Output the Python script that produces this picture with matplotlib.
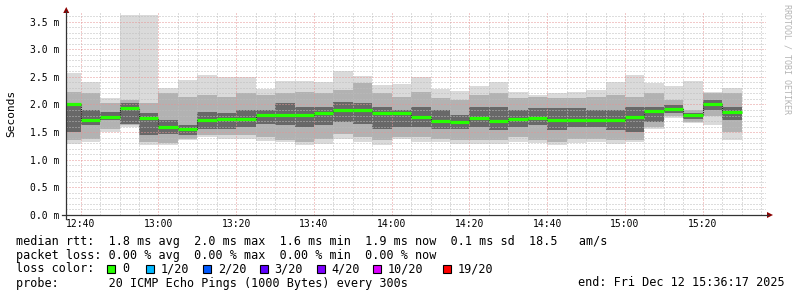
import matplotlib
matplotlib.use("Agg")
import matplotlib.pyplot as plt
import numpy as np
from matplotlib.patches import Rectangle, Polygon
from matplotlib.lines import Line2D
from matplotlib.ticker import FixedLocator, MultipleLocator

# ---------------- data (milliseconds) ----------------
# 5-minute bins starting at 12:35 (minutes after 12:00)
bin_start_min = 35
bin_width_min = 5
median = [2.01, 1.72, 1.78, 1.93, 1.76, 1.59, 1.55, 1.72, 1.73, 1.73,
          1.81, 1.81, 1.81, 1.84, 1.90, 1.90, 1.84, 1.84, 1.77, 1.70,
          1.68, 1.76, 1.70, 1.73, 1.76, 1.71, 1.72, 1.72, 1.71, 1.78,
          1.88, 1.91, 1.81, 2.00, 1.87]
ping_min = [1.29, 1.32, 1.51, 1.59, 1.26, 1.26, 1.35, 1.41, 1.38, 1.38,
            1.33, 1.32, 1.27, 1.29, 1.38, 1.32, 1.26, 1.37, 1.32, 1.32,
            1.28, 1.29, 1.29, 1.32, 1.30, 1.26, 1.30, 1.32, 1.28, 1.32,
            1.55, 1.76, 1.67, 1.63, 1.35]
ping_max = [2.57, 2.41, 2.12, 3.61, 3.61, 2.30, 2.45, 2.54, 2.49, 2.50,
            2.28, 2.42, 2.42, 2.40, 2.60, 2.51, 2.35, 2.37, 2.49, 2.28,
            2.24, 2.33, 2.41, 2.23, 2.18, 2.20, 2.23, 2.27, 2.40, 2.53,
            2.38, 2.33, 2.42, 2.23, 2.30]
mid_lo = [1.35, 1.38, 1.56, 1.62, 1.32, 1.31, 1.38, 1.44, 1.44, 1.45,
          1.41, 1.35, 1.32, 1.38, 1.47, 1.41, 1.35, 1.41, 1.41, 1.38,
          1.35, 1.35, 1.35, 1.41, 1.35, 1.32, 1.38, 1.38, 1.35, 1.35,
          1.59, 1.80, 1.68, 1.80, 1.50]
mid_hi = [2.23, 2.20, 2.03, 2.08, 2.02, 2.20, 2.14, 2.17, 2.14, 2.20,
          2.17, 2.20, 2.23, 2.20, 2.26, 2.38, 2.20, 2.14, 2.23, 2.11,
          2.08, 2.17, 2.20, 2.11, 2.14, 2.11, 2.11, 2.14, 2.17, 2.14,
          2.20, 2.08, 1.90, 2.20, 2.20]
inner_lo = [1.50, 1.62, 1.71, 1.65, 1.45, 1.46, 1.45, 1.56, 1.56, 1.59,
            1.65, 1.62, 1.59, 1.62, 1.68, 1.65, 1.56, 1.59, 1.59, 1.56,
            1.56, 1.59, 1.53, 1.59, 1.62, 1.53, 1.59, 1.59, 1.53, 1.50,
            1.68, 1.84, 1.74, 1.90, 1.71]
inner_hi = [2.02, 1.90, 1.87, 2.02, 1.84, 1.71, 1.62, 1.87, 1.84, 1.90,
            1.90, 2.02, 1.96, 1.96, 2.05, 2.02, 1.96, 1.90, 1.96, 1.90,
            1.81, 1.96, 1.96, 1.90, 1.93, 1.93, 1.93, 1.90, 1.90, 1.96,
            1.96, 1.99, 1.84, 2.08, 1.96]

view_start_min = 36 + 17 / 60.0      # 12:36:17
view_span_min = 180
x_tick_pos = [40, 60, 80, 100, 120, 140, 160, 180, 200]
x_tick_labels = ["12:40", "13:00", "13:20", "13:40", "14:00",
                 "14:20", "14:40", "15:00", "15:20"]
y_tick_pos = [0.0, 0.5, 1.0, 1.5, 2.0, 2.5, 3.0, 3.5]
y_tick_labels = ["0.0 m", "0.5 m", "1.0 m", "1.5 m", "2.0 m",
                 "2.5 m", "3.0 m", "3.5 m"]

loss_labels = ["0", "1/20", "2/20", "3/20", "4/20", "10/20", "19/20"]
loss_colors = ["#26ff00", "#00b8ff", "#0059ff", "#5e00ff",
               "#7e00ff", "#dd00ff", "#ff0000"]

line_rtt = "median rtt:  1.8 ms avg  2.0 ms max  1.6 ms min  1.9 ms now  0.1 ms sd  18.5   am/s"
line_loss = "packet loss: 0.00 % avg  0.00 % max  0.00 % min  0.00 % now"
line_probe = "probe:       20 ICMP Echo Pings (1000 Bytes) every 300s"
end_text = "end: Fri Dec 12 15:36:17 2025"

# ---------------- figure ----------------
W, H = 797, 297
MONO = "DejaVu Sans Mono"
fig = plt.figure(figsize=(W / 100, H / 100), dpi=100)
fig.patch.set_facecolor("white")


def fx(px):
    return px / W


def fy(py):
    return 1 - py / H


ax_l, ax_r, ax_t, ax_b = 66.25, 766.0, 13.0, 215.0
ax = fig.add_axes([fx(ax_l), fy(ax_b), (ax_r - ax_l) / W, (ax_b - ax_t) / H])
ax.set_facecolor("white")

n = len(median)
edges = bin_start_min + bin_width_min * np.arange(n + 1)

ax.stairs(ping_max, edges, baseline=ping_min, fill=True,
          color="#dadada", lw=0, zorder=1)
ax.stairs(mid_hi, edges, baseline=mid_lo, fill=True,
          color="#b2b2b2", lw=0, zorder=1.1)
ax.stairs(inner_hi, edges, baseline=inner_lo, fill=True,
          color="#686868", lw=0, zorder=1.2)

# median: dark step + green segments
ax.stairs(median, edges, baseline=None, color="#222222", lw=0.8,
          linestyle=(0, (1, 1)), zorder=3)
ax.hlines(median, edges[:-1], edges[1:], color=loss_colors[0],
          lw=2.3, zorder=4)

ax.set_xlim(view_start_min, view_start_min + view_span_min)
ax.set_ylim(0, 3.655)

ax.xaxis.set_major_locator(FixedLocator(x_tick_pos))
ax.set_xticklabels(x_tick_labels)
ax.xaxis.set_minor_locator(MultipleLocator(5))
ax.yaxis.set_major_locator(FixedLocator(y_tick_pos))
ax.set_yticklabels(y_tick_labels)
ax.yaxis.set_minor_locator(MultipleLocator(0.1))

ax.set_axisbelow(False)
ax.grid(which="minor", color="#bdbdbd", lw=0.72, linestyle=(0, (1, 2)))
ax.grid(which="major", color="#e69494", lw=0.72, linestyle=(0, (1, 2)))
for gl in ax.get_xgridlines() + ax.get_ygridlines():
    gl.set_zorder(2.5)

ax.tick_params(which="both", length=0)
ax.tick_params(axis="x", pad=2.8, labelsize=7, labelcolor="#000000")
ax.tick_params(axis="y", pad=4.8, labelsize=7, labelcolor="#000000")
for lbl in ax.get_xticklabels() + ax.get_yticklabels():
    lbl.set_family(MONO)
for s in ax.spines.values():
    s.set_visible(False)

# axes lines with arrows
axis_col = "#333333"
arrow_col = "#8b0000"
fig.add_artist(Line2D([fx(62), fx(768)], [fy(215), fy(215)],
                      color=axis_col, lw=0.9))
fig.add_artist(Line2D([fx(66.25), fx(66.25)], [fy(219), fy(11)],
                      color=axis_col, lw=0.9))
fig.add_artist(Polygon([[fx(767), fy(212)], [fx(773), fy(215)], [fx(767), fy(218)]],
                       closed=True, color=arrow_col, lw=0))
fig.add_artist(Polygon([[fx(63.25), fy(13)], [fx(66.25), fy(7)], [fx(69.25), fy(13)]],
                       closed=True, color=arrow_col, lw=0))

# y label and watermark
fig.text(fx(11), fy(113.5), "Seconds", rotation=90, ha="center", va="center",
         family=MONO, fontsize=8)
fig.text(fx(786.5), fy(4), "RRDTOOL / TOBI OETIKER", rotation=270,
         ha="center", va="top", family=MONO, fontsize=6, color="#b4b4b4")

# legend
LFS = 8.5
fig.text(fx(16), fy(241), line_rtt, ha="left", va="center", family=MONO, fontsize=LFS)
fig.text(fx(16), fy(255), line_loss, ha="left", va="center", family=MONO, fontsize=LFS)
fig.text(fx(16), fy(269), "loss color:", ha="left", va="center", family=MONO, fontsize=LFS)
box_x = [107.3, 145.7, 203.3, 260.0, 316.7, 373.3, 442.7]
for bx, lab, col in zip(box_x, loss_labels, loss_colors):
    fig.add_artist(Rectangle((fx(bx), fy(272.5)), 8 / W, 8 / H,
                             facecolor=col, edgecolor="black", lw=0.8))
    fig.text(fx(bx + 14.5), fy(269), lab, ha="left", va="center",
             family=MONO, fontsize=LFS)
fig.text(fx(16), fy(283), line_probe, ha="left", va="center", family=MONO, fontsize=LFS)
fig.text(fx(578), fy(283), end_text, ha="left", va="center", family=MONO, fontsize=LFS)

fig.savefig("out.png", dpi=100, facecolor="white")
